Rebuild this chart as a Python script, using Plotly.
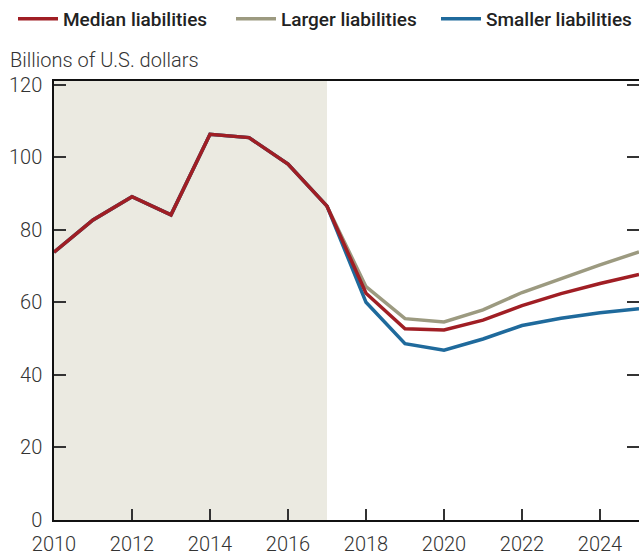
import plotly.graph_objects as go

# Annual liabilities, billions of U.S. dollars
years = list(range(2010, 2026))
median_liab = [73.8, 82.7, 89.1, 84.1, 106.3, 105.4, 98.1, 86.5,
               62.5, 52.7, 52.4, 55.1, 59.1, 62.4, 65.2, 67.7]
larger_liab = [73.8, 82.7, 89.1, 84.1, 106.3, 105.4, 98.1, 86.5,
               64.3, 55.5, 54.6, 57.9, 62.7, 66.6, 70.3, 73.9]
smaller_liab = [73.8, 82.7, 89.1, 84.1, 106.3, 105.4, 98.1, 86.5,
                60.0, 48.6, 46.8, 49.9, 53.6, 55.6, 57.1, 58.2]

history_start, history_end = 2010, 2017
x_ticks = list(range(2010, 2025, 2))
y_ticks = [0, 20, 40, 60, 80, 100, 120]

RED = "#A01E24"
GRAY = "#9C9A80"
BLUE = "#1F6A9C"
SHADE = "#EBEAE1"
FONT = "Roboto"
W, H = 639, 555

fig = go.Figure()

# draw order: gray and blue first, median on top; one legend box per series
fig.add_trace(go.Scatter(x=years, y=larger_liab, mode="lines",
                         name="Larger liabilities", legend="legend2",
                         line=dict(color=GRAY, width=3.5)))
fig.add_trace(go.Scatter(x=years, y=smaller_liab, mode="lines",
                         name="Smaller liabilities", legend="legend3",
                         line=dict(color=BLUE, width=3.5)))
fig.add_trace(go.Scatter(x=years, y=median_liab, mode="lines",
                         name="Median liabilities", legend="legend",
                         line=dict(color=RED, width=3.5)))

# invisible trace to carry the right-hand tick axis
fig.add_trace(go.Scatter(x=[years[0]], y=[y_ticks[0]], yaxis="y2",
                         mode="markers", marker=dict(opacity=0),
                         showlegend=False, hoverinfo="skip"))

fig.add_vrect(x0=history_start, x1=history_end, fillcolor=SHADE,
              line_width=0, layer="below")

fig.add_annotation(text="Billions of U.S. dollars", xref="paper", yref="paper",
                   x=-46 / 585, y=(520 - 60) / 439, xanchor="left",
                   yanchor="middle", showarrow=False,
                   font=dict(family=FONT, size=20, color="#333333", weight=300))


def legend_box(left_px):
    return dict(orientation="h", xref="container", yref="container",
                x=left_px / W, y=1.0, xanchor="left", yanchor="top",
                font=dict(family=FONT, size=19, color="#222222", weight=500),
                itemwidth=40, bgcolor="rgba(0,0,0,0)")


fig.update_layout(
    width=W, height=H,
    margin=dict(l=54, r=0, t=81, b=35),
    paper_bgcolor="white", plot_bgcolor="white",
    font=dict(family=FONT, color="#333333"),
    showlegend=True,
    legend=legend_box(13),
    legend2=legend_box(231),
    legend3=legend_box(436),
    xaxis=dict(range=[2010, 2025], tickvals=x_ticks, ticks="inside",
               ticklen=11, tickwidth=1.5, tickcolor="#333333",
               showline=True, linecolor="#111111", linewidth=2, mirror=True,
               showgrid=False, zeroline=False, ticklabelstandoff=5,
               tickfont=dict(family=FONT, size=20, color="#333333", weight=300)),
    yaxis=dict(range=[0, 121], tickvals=y_ticks, ticks="inside",
               ticklen=12, tickwidth=1.5, tickcolor="#333333",
               showline=True, linecolor="#111111", linewidth=1.5,
               showgrid=False, zeroline=False, ticklabelstandoff=6,
               tickfont=dict(family=FONT, size=20, color="#333333", weight=300)),
    yaxis2=dict(range=[0, 121], tickvals=y_ticks, ticks="inside",
                ticklen=12, tickwidth=1.5, tickcolor="#333333",
                overlaying="y", side="right", showticklabels=False,
                showline=True, linecolor="#DDDDDD", linewidth=1,
                showgrid=False, zeroline=False),
)

fig.write_html("out.html")
